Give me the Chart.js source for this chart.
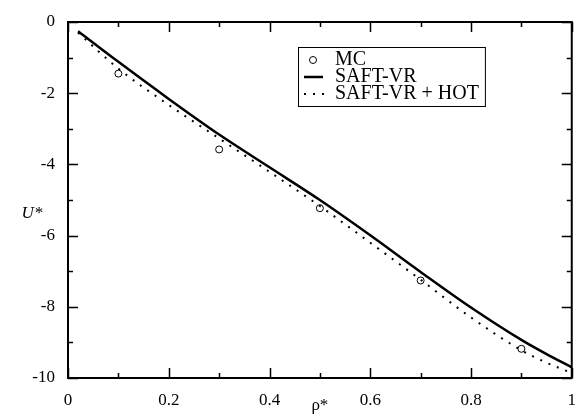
<!DOCTYPE html>
<html>
<head>
<meta charset="utf-8">
<script src="https://cdn.jsdelivr.net/npm/chart.js@4"></script>
<style>
  html, body { margin: 0; padding: 0; background: #fff; }
  #wrap { width: 580px; height: 414px; }
</style>
</head>
<body>
<div id="wrap"><canvas id="chart" width="580" height="414"></canvas></div>
<script>
// Monte Carlo points
const mcDensity = [0.1, 0.3, 0.5, 0.7, 0.9];
const mcEnergy = [-1.45, -3.58, -5.23, -7.26, -9.18];

// Theory curves
const curveDensity = [0.02, 0.1, 0.2, 0.3, 0.4, 0.5, 0.6, 0.7, 0.8, 0.9, 0.95, 1.0];
const saftEnergy = [-0.26, -1.12, -2.16, -3.16, -4.08, -5.0, -5.99, -7.02, -8.02, -8.93, -9.33, -9.70];
const hotEnergy = [-0.30, -1.31, -2.33, -3.27, -4.21, -5.17, -6.20, -7.24, -8.30, -9.22, -9.57, -9.86];

const legendLabels = ['MC', 'SAFT-VR', 'SAFT-VR + HOT'];
const serif = '"Liberation Serif", "Times New Roman", serif';

function toPoints(xs, ys) {
  return xs.map((x, i) => ({ x: x, y: ys[i] }));
}

// Axis box with inward ticks on all four sides, plus U* label and boxed legend
const framePlugin = {
  id: 'frame',
  afterDraw(chart) {
    const { ctx, chartArea: a, scales: { x, y } } = chart;
    ctx.save();
    ctx.strokeStyle = '#000';
    ctx.lineWidth = 1.5;
    ctx.beginPath();
    for (let i = 0; i <= 10; i++) {
      const px = Math.round(x.getPixelForValue(i / 10)) + 0.5;
      const len = i % 2 === 0 ? 10 : 5;
      ctx.moveTo(px, a.bottom); ctx.lineTo(px, a.bottom - len);
      ctx.moveTo(px, a.top); ctx.lineTo(px, a.top + len);
    }
    for (let v = -10; v <= 0; v++) {
      const py = Math.round(y.getPixelForValue(v)) + 0.5;
      const len = v % 2 === 0 ? 10 : 5;
      ctx.moveTo(a.left, py); ctx.lineTo(a.left + len, py);
      ctx.moveTo(a.right, py); ctx.lineTo(a.right - len, py);
    }
    ctx.stroke();

    ctx.lineWidth = 2;
    ctx.strokeRect(a.left, a.top, a.right - a.left, a.bottom - a.top);

    // y axis title, horizontal
    ctx.fillStyle = '#000';
    ctx.font = 'italic 17px ' + serif;
    ctx.textAlign = 'center';
    ctx.textBaseline = 'middle';
    ctx.fillText('U*', 32, (a.top + a.bottom) / 2 + 14);

    // legend
    const lx = a.left + 230, ly = a.top + 25;
    ctx.font = '20px ' + serif;
    ctx.textAlign = 'left';
    const textW = Math.max(...legendLabels.map(t => ctx.measureText(t).width));
    ctx.lineWidth = 1;
    ctx.strokeRect(lx + 0.5, ly + 0.5, 37 + textW + 6, 59);
    const rowY = [ly + 13, ly + 30, ly + 47];
    legendLabels.forEach((t, i) => ctx.fillText(t, lx + 37, rowY[i]));

    ctx.beginPath();
    ctx.arc(lx + 15, rowY[0], 3.5, 0, Math.PI * 2);
    ctx.stroke();

    ctx.lineWidth = 2.5;
    ctx.beginPath();
    ctx.moveTo(lx + 6, rowY[1]); ctx.lineTo(lx + 25, rowY[1]);
    ctx.stroke();

    ctx.lineWidth = 2;
    ctx.setLineDash([2, 7]);
    ctx.beginPath();
    ctx.moveTo(lx + 6, rowY[2]); ctx.lineTo(lx + 28, rowY[2]);
    ctx.stroke();
    ctx.restore();
  }
};

new Chart(document.getElementById('chart').getContext('2d'), {
  type: 'scatter',
  data: {
    datasets: [
      {
        label: legendLabels[0],
        data: toPoints(mcDensity, mcEnergy),
        pointStyle: 'circle',
        pointRadius: 3.5,
        pointBorderWidth: 1,
        borderColor: '#000',
        backgroundColor: 'rgba(0,0,0,0)'
      },
      {
        label: legendLabels[1],
        data: toPoints(curveDensity, saftEnergy),
        showLine: true,
        cubicInterpolationMode: 'monotone',
        borderColor: '#000',
        borderWidth: 2.5,
        pointRadius: 0
      },
      {
        label: legendLabels[2],
        data: toPoints(curveDensity, hotEnergy),
        showLine: true,
        cubicInterpolationMode: 'monotone',
        borderColor: '#000',
        borderWidth: 2,
        borderDash: [2, 7],
        pointRadius: 0
      }
    ]
  },
  options: {
    responsive: false,
    animation: false,
    devicePixelRatio: 1,
    layout: { padding: { top: 22, right: 2, left: 0, bottom: 0 } },
    scales: {
      x: {
        type: 'linear',
        min: 0,
        max: 1,
        grid: { display: false },
        border: { display: false },
        ticks: {
          stepSize: 0.2,
          padding: 4,
          maxRotation: 0,
          color: '#000',
          font: { family: serif, size: 17 },
          callback: v => String(Number(v.toFixed(1)))
        },
        title: {
          display: true,
          text: 'ρ*',
          color: '#000',
          padding: { top: 0, bottom: -2 },
          font: { family: serif, size: 17 }
        },
        afterFit: s => { s.height = 36; }
      },
      y: {
        type: 'linear',
        min: -10,
        max: 0,
        grid: { display: false },
        border: { display: false },
        ticks: {
          stepSize: 2,
          padding: 5,
          color: '#000',
          font: { family: serif, size: 17 },
          callback: v => String(v)
        },
        afterFit: s => { s.width = 68; }
      }
    },
    plugins: {
      legend: { display: false },
      tooltip: { enabled: false }
    }
  },
  plugins: [framePlugin]
});
</script>
</body>
</html>
